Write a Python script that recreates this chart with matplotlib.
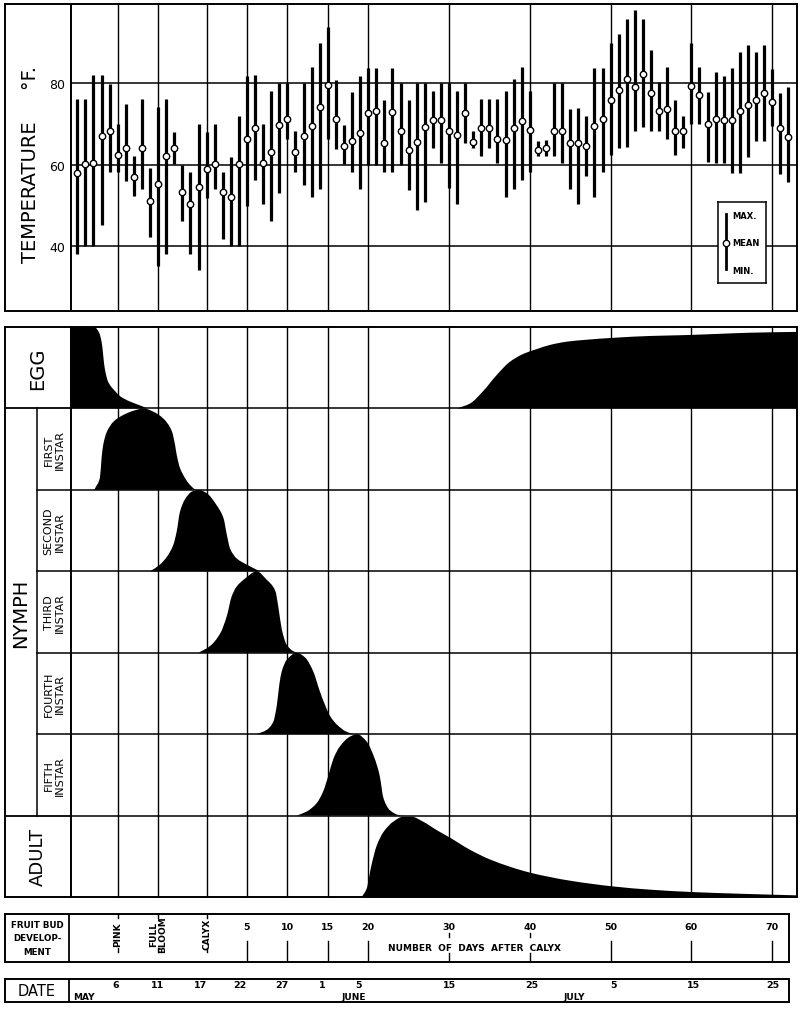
import numpy as np
import matplotlib.pyplot as plt
from matplotlib.path import Path
from matplotlib.patches import PathPatch

# days counted from calyx (May 17 = 0), one reading per day
days = list(range(-16, 73))

t_mean = [57.9, 60.1, 60.4, 67.0, 68.3, 62.3, 64.2, 57.0, 64.2, 51.1, 55.2, 62.0, 64.2, 53.3, 50.3,
          54.5, 58.9, 60.1, 53.2, 52.1, 60.1, 66.3, 69.0, 60.4, 63.1, 69.7, 71.3, 63.1, 67.0, 69.5,
          74.1, 79.6, 71.1, 64.6, 65.9, 67.8, 72.7, 73.2, 65.3, 72.9, 68.2, 63.7, 65.6, 69.3, 70.9,
          70.9, 68.2, 67.2, 72.6, 65.5, 69.0, 68.9, 66.2, 66.0, 69.0, 70.8, 68.5, 63.7, 64.1, 68.2,
          68.2, 65.2, 65.2, 64.5, 69.4, 71.1, 76.0, 78.3, 81.1, 79.2, 82.2, 77.6, 73.1, 73.6, 68.2,
          68.2, 79.3, 77.0, 70.1, 71.1, 71.0, 71.0, 73.3, 74.7, 76.0, 77.7, 75.4, 69.0, 66.8]
t_max = [76.1, 76.1, 82.0, 82.0, 79.8, 70.0, 74.9, 62.2, 76.1, 59.1, 74.1, 76.1, 67.9, 60.0, 58.1,
         70.0, 67.9, 70.0, 58.1, 61.8, 72.0, 81.9, 82.0, 70.0, 78.1, 80.0, 80.0, 68.2, 80.0, 84.0,
         90.0, 93.8, 80.9, 69.7, 77.8, 81.8, 83.8, 83.7, 75.8, 83.7, 80.0, 75.8, 80.0, 80.0, 78.2,
         80.0, 80.0, 78.1, 80.0, 68.2, 76.2, 76.2, 76.2, 78.1, 81.1, 84.1, 78.1, 65.7, 66.0, 80.0,
         80.0, 73.7, 73.9, 71.9, 83.8, 83.8, 90.0, 92.0, 95.9, 98.0, 95.9, 88.1, 80.2, 84.0, 76.0,
         71.9, 89.8, 84.0, 77.8, 82.8, 81.8, 83.8, 87.7, 89.5, 87.7, 89.5, 83.4, 77.5, 79.1]
t_min = [38.0, 40.0, 40.0, 45.2, 58.1, 58.2, 56.0, 52.2, 54.1, 42.1, 35.1, 38.0, 60.1, 46.2, 38.0,
         34.1, 51.9, 54.1, 41.8, 40.0, 40.0, 49.9, 56.1, 50.2, 46.2, 53.0, 66.2, 58.2, 55.1, 52.0,
         54.0, 66.2, 63.9, 60.2, 58.2, 54.1, 60.0, 60.0, 58.2, 58.2, 60.0, 53.8, 48.9, 50.8, 64.1,
         60.4, 54.2, 50.2, 65.3, 64.1, 62.2, 64.1, 60.4, 52.0, 54.0, 56.1, 58.2, 62.2, 62.2, 62.2,
         60.4, 54.0, 50.2, 57.1, 52.0, 58.2, 62.3, 64.1, 64.3, 68.2, 69.2, 68.2, 68.2, 66.2, 62.3,
         64.1, 70.1, 70.1, 60.6, 60.4, 60.4, 58.0, 58.0, 61.8, 65.7, 65.7, 69.6, 57.7, 55.7]

# fruit bud development (days after calyx)
bud_labels = ['PINK', 'FULL\nBLOOM', 'CALYX', '5', '10', '15', '20', '30', '40', '50', '60', '70']
bud_pos = [-11, -6, 0, 5, 10, 15, 20, 30, 40, 50, 60, 70]

date_labels = ['6', '11', '17', '22', '27', '1', '5', '15', '25', '5', '15', '25']
date_pos = [-11.3, -6.1, -0.8, 4.1, 9.3, 14.3, 18.8, 30.0, 40.3, 50.3, 60.2, 70.1]
month_labels = ['MAY', 'JUNE', 'JULY']
month_pos = [-15.2, 18.2, 45.5]

# relative abundance of each stage (fraction of its row)
egg1_x = [-16.8, -13.9, -13.3, -13.0, -12.6, -12.2, -11.3, -10.7, -9.5, -7.9, -7.4]
egg1_y = [1.0, 1.0, 0.93, 0.82, 0.49, 0.33, 0.21, 0.15, 0.085, 0.024, 0.0]
egg2_x = [31.0, 32.6, 34.2, 35.9, 37.5, 39.2, 40.9, 42.5, 44.6, 46.6, 50.8, 54.9, 59.0, 63.2, 67.3, 73.1]
egg2_y = [0.0, 0.06, 0.21, 0.41, 0.57, 0.67, 0.73, 0.78, 0.82, 0.84, 0.87, 0.89, 0.90, 0.915, 0.93, 0.94]

first_x = [-13.9, -13.8, -13.2, -13.0, -12.8, -12.4, -11.5, -10.3, -9.1, -7.8, -6.6, -5.4, -4.3,
           -3.9, -3.7, -3.3, -2.7, -2.1, -1.4]
first_y = [0.0, 0.02, 0.15, 0.39, 0.55, 0.70, 0.84, 0.92, 0.97, 1.0, 0.96, 0.88, 0.72,
           0.55, 0.43, 0.27, 0.15, 0.065, 0.0]

second_x = [-7.0, -5.8, -4.9, -4.1, -3.7, -3.3, -2.7, -1.8, -1.0, 0.0, 1.25, 2.1, 2.5, 2.9, 3.7, 5.0, 6.6]
second_y = [0.0, 0.08, 0.18, 0.33, 0.49, 0.73, 0.88, 0.98, 1.0, 0.96, 0.81, 0.65, 0.45, 0.28, 0.16, 0.08, 0.0]

third_x = [-1.0, 0.4, 1.7, 2.5, 3.1, 3.7, 4.75, 6.2, 7.4, 8.5, 8.9, 9.3, 9.9, 10.7, 11.2]
third_y = [0.0, 0.08, 0.24, 0.45, 0.69, 0.81, 0.91, 1.0, 0.9, 0.76, 0.55, 0.29, 0.10, 0.02, 0.0]

fourth_x = [6.2, 7.4, 8.25, 8.7, 9.0, 9.3, 9.9, 11.15, 12.2, 13.2, 14.0, 14.65, 15.3, 16.1, 17.3, 18.2]
fourth_y = [0.0, 0.05, 0.15, 0.36, 0.61, 0.77, 0.91, 1.0, 0.94, 0.77, 0.53, 0.36, 0.22, 0.12, 0.03, 0.0]

fifth_x = [11.15, 12.4, 13.6, 14.4, 15.1, 15.7, 16.5, 17.75, 18.6, 19.8, 20.8, 21.4, 21.9, 22.7, 23.9, 24.8]
fifth_y = [0.0, 0.05, 0.15, 0.29, 0.50, 0.70, 0.85, 0.97, 1.0, 0.91, 0.70, 0.50, 0.21, 0.065, 0.004, 0.0]

adult_x = [19.2, 19.8, 20.4, 21.05, 21.9, 23.1, 24.3, 25.4, 26.8, 28.5, 30.1, 32.6, 35.1, 40.0,
           45.0, 50.3, 54.9, 60.3, 66.0, 73.1]
adult_y = [0.0, 0.10, 0.39, 0.63, 0.80, 0.925, 0.985, 0.985, 0.925, 0.82, 0.73, 0.58, 0.46, 0.30,
           0.20, 0.13, 0.09, 0.06, 0.04, 0.02]

W, H = 802, 1012
fig = plt.figure(figsize=(W / 100, H / 100), dpi=100)
plt.rcParams['font.family'] = 'DejaVu Sans'

CALYX_PX = 206.6
PX_DAY = 8.08


def day(px):
    return (px - CALYX_PX) / PX_DAY


def box(x0, y0, x1, y1):
    # axes placed by pixel corners (top-left origin)
    a = fig.add_axes([x0 / W, 1 - y1 / H, (x1 - x0) / W, (y1 - y0) / H])
    a.set_xticks([])
    a.set_yticks([])
    for s in a.spines.values():
        s.set_linewidth(1.4)
    return a


def smooth_fill(ax, xs, ys, base):
    # filled shape whose top edge is a monotone cubic through the read points
    x = np.asarray(xs, float)
    y = np.asarray(ys, float) + base
    h = np.diff(x)
    d = np.diff(y) / h
    m = np.zeros_like(x)
    m[0], m[-1] = d[0], d[-1]
    for k in range(1, len(x) - 1):
        if d[k - 1] * d[k] <= 0:
            m[k] = 0.0
        else:
            w1 = 2 * h[k] + h[k - 1]
            w2 = h[k] + 2 * h[k - 1]
            m[k] = (w1 + w2) / (w1 / d[k - 1] + w2 / d[k])
    verts = [(x[0], base), (x[0], y[0])]
    codes = [Path.MOVETO, Path.LINETO]
    for k in range(len(x) - 1):
        verts += [(x[k] + h[k] / 3, y[k] + m[k] * h[k] / 3),
                  (x[k + 1] - h[k] / 3, y[k + 1] - m[k + 1] * h[k] / 3),
                  (x[k + 1], y[k + 1])]
        codes += [Path.CURVE4] * 3
    verts += [(x[-1], base), (x[0], base)]
    codes += [Path.LINETO, Path.CLOSEPOLY]
    ax.add_patch(PathPatch(Path(verts, codes), facecolor='k', edgecolor='none', zorder=2))


# ---------- temperature panel ----------
ax_tl = box(5, 5, 71, 312)
ax_tl.set_xlim(0, 1)
ax_tl.set_ylim(0, 1)
ax_tl.text(0.39, 0.48, 'TEMPERATURE     \u00b0F.', rotation=90, ha='center', va='center', fontsize=14)

ax_t = box(71, 5, 797, 312)
ax_t.set_xlim(day(71), day(797))
ax_t.set_ylim(24, 99.5)
for v in [40, 60, 80]:
    ax_t.axhline(v, color='k', lw=1.1, zorder=1)
for p in bud_pos:
    ax_t.axvline(p, color='k', lw=1.0, zorder=1)
ax_t.vlines(days, t_min, t_max, color='k', lw=2.3, zorder=2)
ax_t.plot(days, t_mean, 'o', ms=4.6, mfc='white', mec='k', mew=1.0, zorder=3)
ax_t.set_yticks([40, 60, 80])
ax_t.tick_params(axis='y', length=0, pad=4, labelsize=9)

ax_leg = box(718, 203, 766, 284)
ax_leg.set_xlim(0, 1)
ax_leg.set_ylim(0, 1)
ax_leg.spines[:].set_linewidth(1.1)
ax_leg.plot([0.17, 0.17], [0.17, 0.85], color='k', lw=2.0)
ax_leg.plot([0.17], [0.5], 'o', ms=4.6, mfc='white', mec='k', mew=1.0)
for txt, yy in [('MAX.', 0.83), ('MEAN', 0.5), ('MIN.', 0.15)]:
    ax_leg.text(0.3, yy, txt, fontsize=6, fontweight='bold', va='center')

# ---------- life stages panel ----------
ax_sl = box(5, 328, 71, 898)
ax_sl.set_xlim(0, 1)
ax_sl.set_ylim(0, 7)
split = (37 - 5) / 66
ax_sl.plot([0, 1], [6, 6], color='k', lw=1.3)
ax_sl.plot([0, 1], [1, 1], color='k', lw=1.3)
ax_sl.plot([split, split], [1, 6], color='k', lw=1.1)
for yy in [2, 3, 4, 5]:
    ax_sl.plot([split, 1], [yy, yy], color='k', lw=1.1)
ax_sl.text(0.5, 6.5, 'EGG', rotation=90, ha='center', va='center', fontsize=14)
ax_sl.text(0.5, 0.5, 'ADULT', rotation=90, ha='center', va='center', fontsize=13)
ax_sl.text(split / 2, 3.5, 'NYMPH', rotation=90, ha='center', va='center', fontsize=14)
for i, name in enumerate(['FIRST', 'SECOND', 'THIRD', 'FOURTH', 'FIFTH']):
    ax_sl.text((split + 1) / 2, 5.5 - i, name + '\nINSTAR', rotation=90, ha='center',
               va='center', fontsize=8, linespacing=1.1)

ax_s = box(71, 328, 797, 898)
ax_s.set_xlim(day(71), day(797))
ax_s.set_ylim(0, 7)
for yy in range(1, 7):
    ax_s.axhline(yy, color='k', lw=1.1, zorder=1)
for p in bud_pos:
    ax_s.axvline(p, color='k', lw=1.0, zorder=1)

stages = [(egg1_x, egg1_y, 6), (egg2_x, egg2_y, 6), (first_x, first_y, 5), (second_x, second_y, 4),
          (third_x, third_y, 3), (fourth_x, fourth_y, 2), (fifth_x, fifth_y, 1), (adult_x, adult_y, 0)]
for xs, fr, base in stages:
    smooth_fill(ax_s, xs, fr, base)

# ---------- fruit bud development ----------
ax_b = box(5, 915, 789, 963)
ax_b.set_xlim(day(5), day(789))
ax_b.set_ylim(0, 1)
ax_b.axvline(day(69), color='k', lw=1.3)
ax_b.text(day(37), 0.5, 'FRUIT BUD\nDEVELOP-\nMENT', ha='center', va='center', fontsize=6.3,
          linespacing=1.6, fontweight='bold')
for lab, p in zip(bud_labels, bud_pos):
    if lab.isdigit():
        ax_b.text(p, 0.74, lab, ha='center', va='center', fontsize=6.8, fontweight='bold')
        if p in (30, 40):
            ax_b.plot([p, p], [0.52, 0.6], color='k', lw=1.0)
            ax_b.plot([p, p], [0, 0.18], color='k', lw=1.0)
        else:
            ax_b.plot([p, p], [0, 0.44], color='k', lw=1.0)
    else:
        ax_b.text(p, 0.6, lab, rotation=90, ha='center', va='center', fontsize=6.5,
                  fontweight='bold', linespacing=1.0)
        ax_b.plot([p, p], [0.92, 1.0], color='k', lw=1.0)
        ax_b.plot([p, p], [0.2, 0.3], color='k', lw=1.0)
ax_b.text(33.2, 0.31, 'NUMBER  OF  DAYS  AFTER  CALYX', ha='center', va='center', fontsize=6.5,
          fontweight='bold')

# ---------- dates ----------
ax_d = box(5, 980, 789, 1003)
ax_d.set_xlim(day(5), day(789))
ax_d.set_ylim(0, 1)
ax_d.axvline(day(69), color='k', lw=1.3)
ax_d.text(day(37), 0.5, 'DATE', ha='center', va='center', fontsize=10.5)
for lab, p in zip(date_labels, date_pos):
    ax_d.text(p, 0.76, lab, ha='center', va='center', fontsize=6.8, fontweight='bold')
for lab, p in zip(month_labels, month_pos):
    ax_d.text(p, 0.25, lab, ha='center', va='center', fontsize=6.5, fontweight='bold')

fig.savefig('out.png', dpi=100)
